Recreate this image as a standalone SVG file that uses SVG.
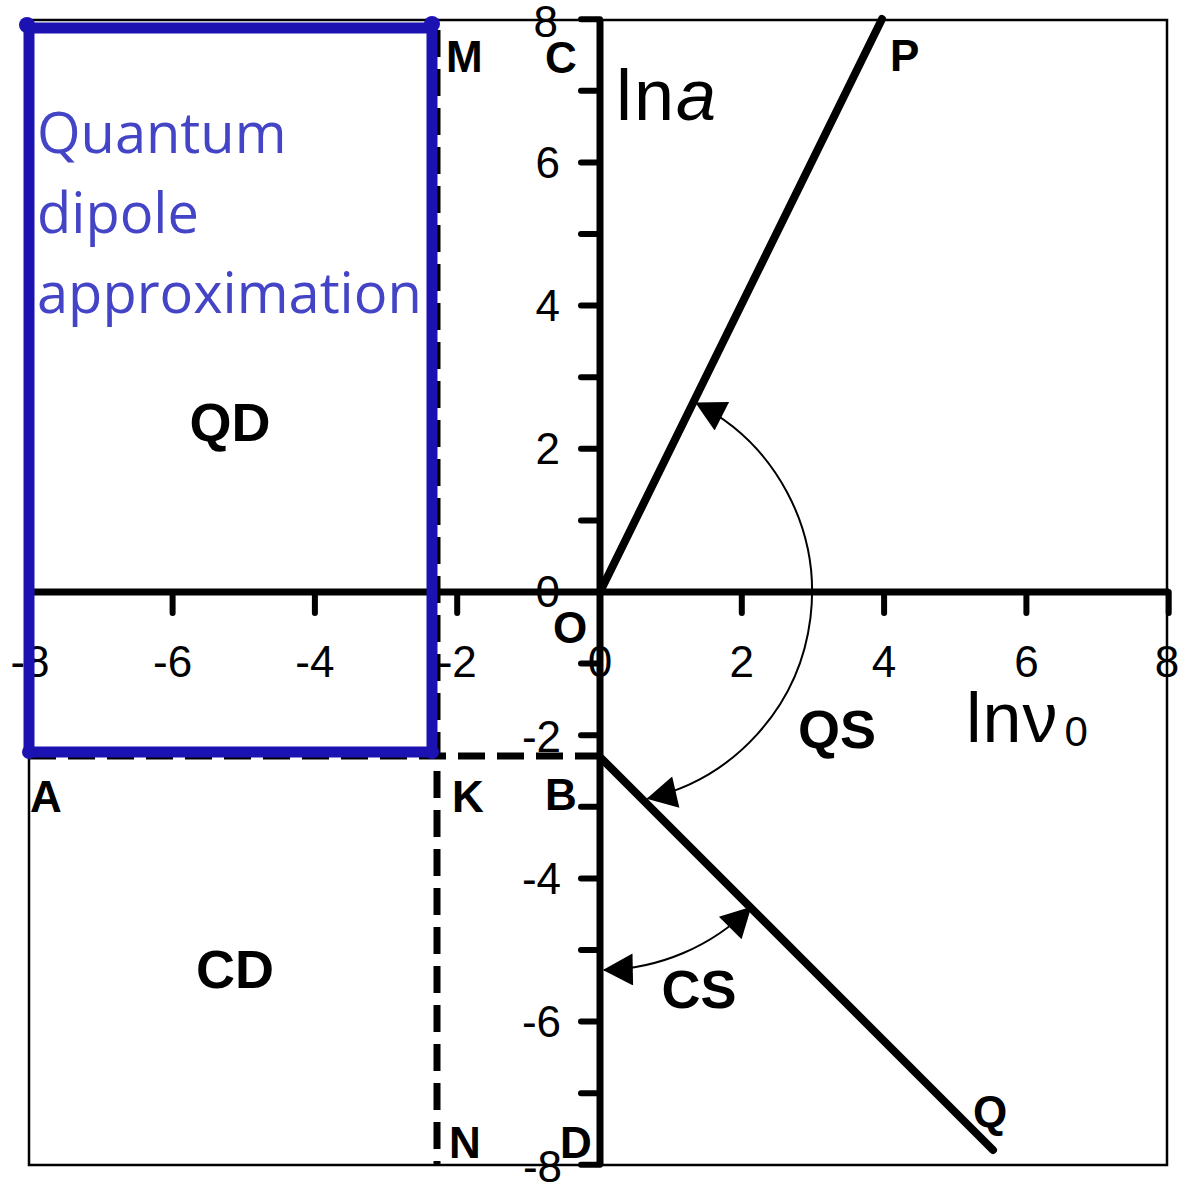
<svg xmlns="http://www.w3.org/2000/svg" width="1180" height="1192" viewBox="0 0 1180 1192">
<style>
.ax{stroke:#000;stroke-width:7;fill:none}
.tk{stroke:#000;stroke-width:6;stroke-linecap:round}
.dash{stroke:#000;stroke-width:7;stroke-dasharray:27 12;fill:none}
.num{font-family:"Liberation Sans",Arial,sans-serif;font-size:44px;fill:#000}
.lab{font-family:"Liberation Sans",Arial,sans-serif;font-size:44px;font-weight:bold;fill:#000}
.big{font-family:"Liberation Sans",Arial,sans-serif;font-size:54px;font-weight:bold;fill:#000;text-anchor:middle}
.thick{stroke:#000;stroke-width:8;stroke-linecap:round}
.arc{stroke:#000;stroke-width:2;fill:none}
.blue{stroke:#1c12b2;stroke-width:11;fill:none;stroke-linejoin:round}
.bt{font-family:"Open Sans","Noto Sans",sans-serif;font-size:56px;fill:#4444c6}
</style>
<defs>
<marker id="ah" markerUnits="userSpaceOnUse" markerWidth="32" markerHeight="32" viewBox="0 0 28 30" refX="27" refY="15" orient="auto-start-reverse">
<path d="M0,0 L28,15 L0,30 Z" fill="#000"/>
</marker>
</defs>
<rect width="1180" height="1192" fill="#fff"/>
<g id="frame">
<rect x="29" y="20" width="1138" height="1145" fill="none" stroke="#000" stroke-width="2.5"/>
</g>
<g id="axes">
<line class="ax" x1="30" y1="592" x2="1169" y2="592"/>
<line class="ax" x1="600" y1="19" x2="600" y2="1165"/>
<g id="yticks">
<line class="tk" x1="581" y1="19.2" x2="600" y2="19.2"/>
<line class="tk" x1="581" y1="90.8" x2="600" y2="90.8"/>
<line class="tk" x1="581" y1="162.4" x2="600" y2="162.4"/>
<line class="tk" x1="581" y1="234" x2="600" y2="234"/>
<line class="tk" x1="581" y1="305.6" x2="600" y2="305.6"/>
<line class="tk" x1="581" y1="377.2" x2="600" y2="377.2"/>
<line class="tk" x1="581" y1="448.8" x2="600" y2="448.8"/>
<line class="tk" x1="581" y1="520.4" x2="600" y2="520.4"/>
<line class="tk" x1="581" y1="663.6" x2="600" y2="663.6"/>
<line class="tk" x1="581" y1="735.2" x2="600" y2="735.2"/>
<line class="tk" x1="581" y1="806.8" x2="600" y2="806.8"/>
<line class="tk" x1="581" y1="878.4" x2="600" y2="878.4"/>
<line class="tk" x1="581" y1="950" x2="600" y2="950"/>
<line class="tk" x1="581" y1="1021.6" x2="600" y2="1021.6"/>
<line class="tk" x1="581" y1="1093.2" x2="600" y2="1093.2"/>
<line class="tk" x1="581" y1="1164.8" x2="600" y2="1164.8"/>
</g>
<g id="xticks">
<line class="tk" x1="172.6" y1="592" x2="172.6" y2="613"/>
<line class="tk" x1="314.9" y1="592" x2="314.9" y2="613"/>
<line class="tk" x1="457.2" y1="592" x2="457.2" y2="613"/>
<line class="tk" x1="741.8" y1="592" x2="741.8" y2="613"/>
<line class="tk" x1="884.1" y1="592" x2="884.1" y2="613"/>
<line class="tk" x1="1026.4" y1="592" x2="1026.4" y2="613"/>
<line class="tk" x1="1168.7" y1="592" x2="1168.7" y2="613"/>
</g>
<g id="xlabels" class="num" text-anchor="middle">
<text x="30" y="677">-8</text>
<text x="172.6" y="677">-6</text>
<text x="314.9" y="677">-4</text>
<text x="457.2" y="677">-2</text>
<text x="600" y="677">0</text>
<text x="741.8" y="677">2</text>
<text x="884.1" y="677">4</text>
<text x="1026.4" y="677">6</text>
<text x="1167" y="677">8</text>
</g>
<g id="ylabels" class="num" text-anchor="end">
<text x="558" y="37">8</text>
<text x="560" y="178">6</text>
<text x="560" y="321">4</text>
<text x="560" y="464">2</text>
<text x="560" y="607">0</text>
<text x="561" y="752">-2</text>
<text x="561" y="894">-4</text>
<text x="561" y="1037">-6</text>
<text x="562" y="1182">-8</text>
</g>
</g>
<g id="dashed">
<line class="dash" x1="29" y1="756" x2="598" y2="756"/>
<line class="dash" x1="437" y1="30" x2="437" y2="1165"/>
</g>
<g id="region-QD">
<path class="blue" d="M29,28 H432 V752 H29 Z"/>
<circle cx="27" cy="25" r="8" fill="#1c12b2"/>
<circle cx="432" cy="24" r="8" fill="#1c12b2"/>
<circle cx="29" cy="752" r="7" fill="#1c12b2"/>
<circle cx="432" cy="752" r="7" fill="#1c12b2"/>
<text class="bt" x="37" y="153">Quantum</text>
<text class="bt" x="37" y="233">dipole</text>
<text class="bt" x="37" y="313">approximation</text>
</g>
<g id="line-OP">
<line class="thick" x1="600" y1="592" x2="882" y2="19"/>
</g>
<g id="line-BQ">
<line class="thick" x1="600" y1="757" x2="993" y2="1150"/>
</g>
<g id="connectors">
<path id="arc-QS" class="arc" d="M696.2,403.1 A212,212 0 0 1 647.7,798.6" marker-start="url(#ah)" marker-end="url(#ah)"/>
<path id="arc-CS" class="arc" d="M604,970 A213,213 0 0 0 750.6,907.6" marker-start="url(#ah)" marker-end="url(#ah)"/>
</g>
<g id="labels">
<text class="lab" x="446" y="72">M</text>
<text class="lab" x="545" y="73">C</text>
<text class="lab" x="890" y="71">P</text>
<text class="lab" x="553" y="643">O</text>
<text class="lab" x="30" y="812">A</text>
<text class="lab" x="452" y="812">K</text>
<text class="lab" x="545" y="810">B</text>
<text class="lab" x="449" y="1158">N</text>
<text class="lab" x="560" y="1158">D</text>
<text class="lab" x="973" y="1127">Q</text>
<text class="big" x="230" y="441">QD</text>
<text class="big" x="235" y="988">CD</text>
<text class="big" x="837" y="748">QS</text>
<text class="big" x="699" y="1008">CS</text>
<text x="616" y="120" font-family="Liberation Sans, Arial, sans-serif" font-size="72" letter-spacing="2">ln<tspan font-style="italic">a</tspan></text>
<text x="966" y="742" font-family="Liberation Sans, Arial, sans-serif" font-size="70" letter-spacing="1">lnν<tspan font-size="42" dx="6" dy="4">0</tspan></text>
</g>
</svg>
